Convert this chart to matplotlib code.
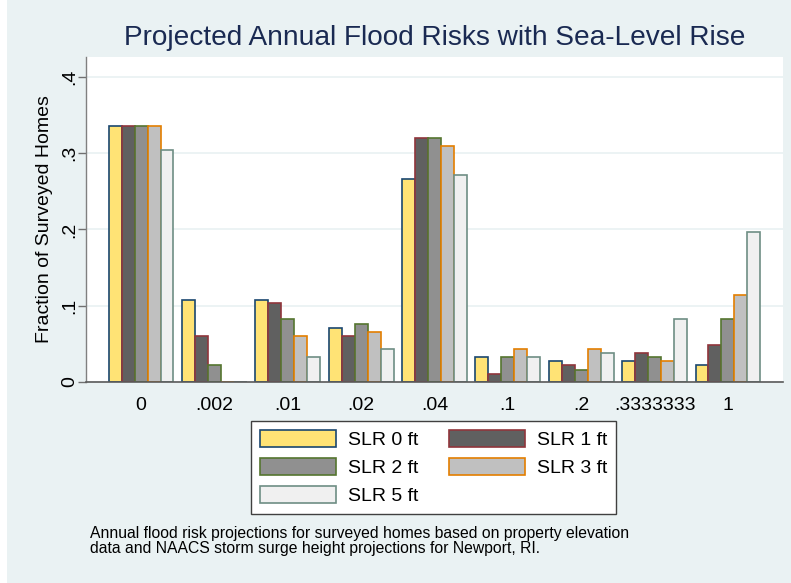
import numpy as np
import matplotlib.pyplot as plt
from matplotlib.patches import Rectangle

plt.rcParams['font.family'] = ['Liberation Sans', 'DejaVu Sans']

# flood risk categories (x axis)
risk_labels = ["0", ".002", ".01", ".02", ".04", ".1", ".2", ".3333333", "1"]

# fraction of surveyed homes per scenario
slr0 = [0.336, 0.108, 0.108, 0.071, 0.266, 0.033, 0.027, 0.027, 0.022]
slr1 = [0.336, 0.060, 0.103, 0.060, 0.320, 0.011, 0.022, 0.038, 0.049]
slr2 = [0.336, 0.022, 0.082, 0.076, 0.320, 0.033, 0.016, 0.033, 0.082]
slr3 = [0.336, 0.000, 0.060, 0.065, 0.309, 0.043, 0.043, 0.027, 0.114]
slr5 = [0.304, 0.000, 0.033, 0.043, 0.271, 0.033, 0.038, 0.082, 0.196]

series = [slr0, slr1, slr2, slr3, slr5]
names = ["SLR 0 ft", "SLR 1 ft", "SLR 2 ft", "SLR 3 ft", "SLR 5 ft"]
fills = ["#ffe375", "#606060", "#909090", "#c0c0c0", "#f0f0f0"]
edges = ["#1a476f", "#90353b", "#55752f", "#e37e00", "#6e8e84"]

bg = "#eaf2f3"
fig = plt.figure(figsize=(7.91, 5.83), dpi=100, facecolor=bg)
fig.patches.append(Rectangle((0, 0), 7 / 791, 1, transform=fig.transFigure,
                             facecolor="white", edgecolor="none", zorder=-10))

ax = fig.add_axes([86 / 791, 1 - 382 / 583, (783 - 86) / 791, (382 - 57) / 583])
ax.set_facecolor("white")

x = np.arange(len(risk_labels))
w = 0.177
bars = []
for i, (vals, nm, fc, ec) in enumerate(zip(series, names, fills, edges)):
    b = ax.bar(x + (i - 2) * w, vals, width=w, color=fc, edgecolor=ec,
               linewidth=1.2, label=nm, zorder=3)
    bars.append(b)

ax.set_xlim(-0.75, 8.75)
ax.set_ylim(0, 0.426)
ax.set_yticks([0, 0.1, 0.2, 0.3, 0.4])
ax.set_yticklabels(["0", ".1", ".2", ".3", ".4"], rotation=90, va="center")
ax.set_xticks(x)
ax.set_xticklabels(risk_labels)
ax.tick_params(axis="x", length=0, pad=11, labelsize=14)
ax.tick_params(axis="y", length=6, width=1, color="#707070", pad=-0.5, labelsize=14)
ax.grid(axis="y", color=bg, linewidth=1.3, zorder=0)

for s in ["top", "right"]:
    ax.spines[s].set_visible(False)
ax.spines["left"].set_color("#808080")
ax.spines["bottom"].set_color("#5a5a5a")
ax.spines["left"].set_linewidth(1)
ax.spines["bottom"].set_linewidth(1.2)
ax.spines["bottom"].set_zorder(5)

ax.set_ylabel("Fraction of Surveyed Homes", fontsize=14, labelpad=6)
fig.text(434.5 / 791, 1 - 38 / 583, "Projected Annual Flood Risks with Sea-Level Rise",
         ha="center", va="center", fontsize=20.2, color="#1a2a52")

# row-major legend order
order = [0, 2, 4, 1, 3]
leg = ax.legend([bars[k] for k in order], [names[k] for k in order],
                ncol=2, loc="upper center", bbox_to_anchor=(433.5 / 791, 1 - 421 / 583),
                bbox_transform=fig.transFigure, fontsize=14, frameon=True,
                fancybox=False, handlelength=3.9, handleheight=1.0,
                handletextpad=0.6, columnspacing=1.6, labelspacing=0.45,
                borderpad=0.45, borderaxespad=0)
leg.get_frame().set_edgecolor("#404040")
leg.get_frame().set_linewidth(1)
leg.get_frame().set_facecolor("white")
leg.get_frame().set_alpha(1)

fig.text(90 / 791, 1 - 541 / 583,
         "Annual flood risk projections for surveyed homes based on property elevation\n"
         "data and NAACS storm surge height projections for Newport, RI.",
         ha="left", va="center", fontsize=11.3, linespacing=1.05)

fig.savefig("out.png", dpi=100, facecolor=fig.get_facecolor())
